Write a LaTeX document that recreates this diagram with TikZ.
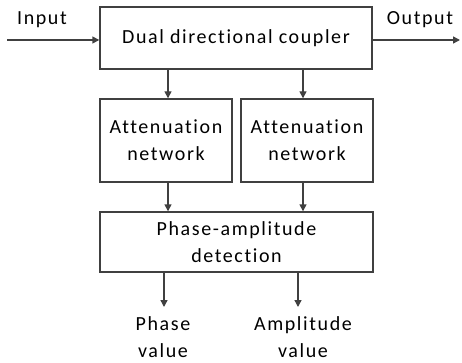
\documentclass[tikz,border=0pt]{standalone}
\usepackage{fontspec}
\setmainfont{Carlito}
\newfontfamily\spaced[LetterSpace=8,Ligatures=NoCommon]{Carlito}
\usetikzlibrary{arrows.meta}
\definecolor{ln}{HTML}{404040}
\begin{document}
\begin{tikzpicture}[x=1pt,y=-1pt,
  box/.style={draw=ln,line width=1.4pt,inner sep=0pt,align=center,font=\spaced\fontsize{20}{27}\selectfont},
  lbl/.style={inner sep=0pt,align=center,font=\spaced\fontsize{20}{27}\selectfont},
  arr/.style={draw=ln,line width=1.4pt,-{Triangle[length=7pt,width=7pt]}}]
\useasboundingbox (0,0) rectangle (462,363);
\node[box,minimum width=272pt,minimum height=62pt] (dc) at (236,38) {Dual directional coupler};
\node[box,minimum width=132pt,minimum height=83pt] (a1) at (166,140.5) {Attenuation\\network};
\node[box,minimum width=132pt,minimum height=83pt] (a2) at (307,140.5) {Attenuation\\network};
\node[box,minimum width=273pt,minimum height=60pt] (pd) at (236.5,242) {Phase-amplitude\\detection};
\coordinate (in) at (7,40);
\coordinate (out) at (460,40);
\coordinate (pe) at (164,307);
\coordinate (ae) at (298,307);
\node[lbl] (inl) at (42,20) {Input};
\node[lbl] (outl) at (420,20) {Output};
\node[lbl] (pv) at (163,337) {Phase\\value};
\node[lbl] (av) at (303,337) {Amplitude\\value};
\draw[arr] (in) -- (in -| dc.west);
\draw[arr] (dc.east |- out) -- (out);
\draw[arr] (dc.south -| 168,0) -- (a1.north -| 168,0);
\draw[arr] (dc.south -| 303,0) -- (a2.north -| 303,0);
\draw[arr] (a1.south -| 168,0) -- (pd.north -| 168,0);
\draw[arr] (a2.south -| 303,0) -- (pd.north -| 303,0);
\draw[arr] (pd.south -| pe) -- (pe);
\draw[arr] (pd.south -| ae) -- (ae);
\end{tikzpicture}
\end{document}
